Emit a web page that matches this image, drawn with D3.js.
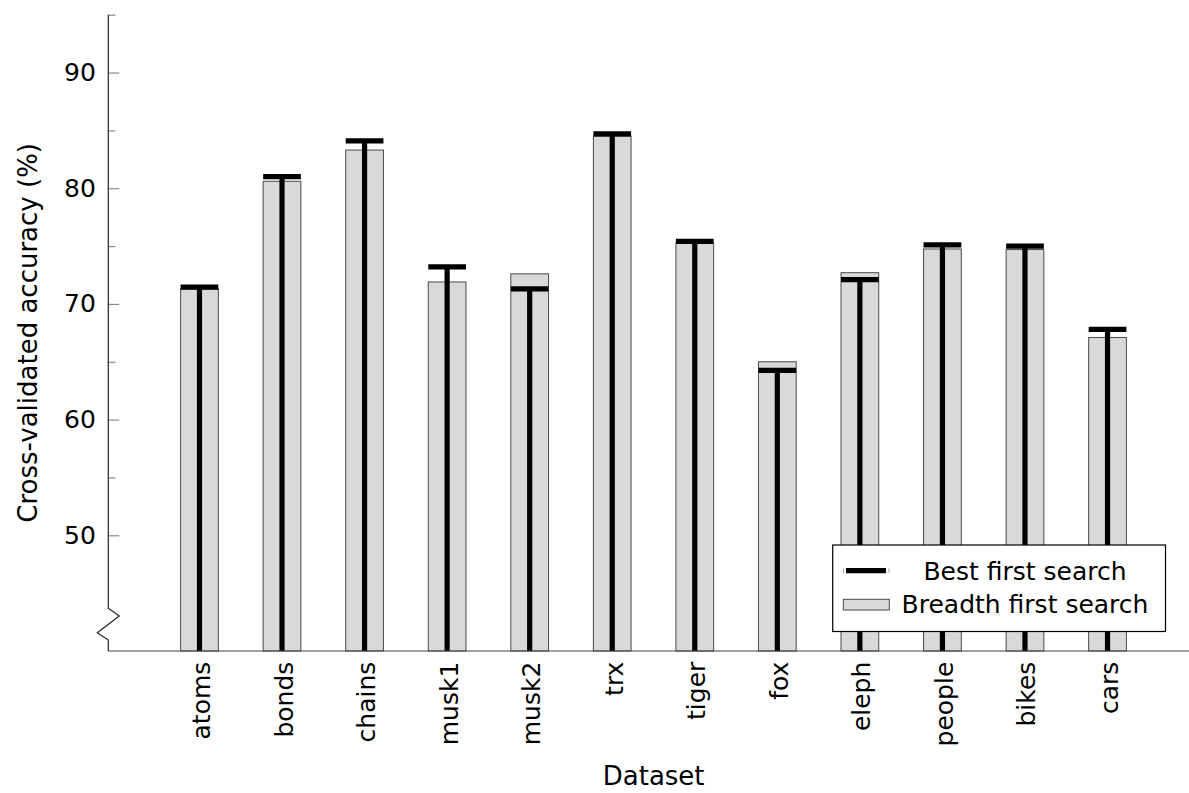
<!DOCTYPE html>
<html><head><meta charset="utf-8">
<script src="https://cdn.jsdelivr.net/npm/d3@7"></script>
<style>
body{margin:0;background:#fff}
svg text{font-family:"DejaVu Sans", sans-serif; fill:#000}
</style>
</head><body>
<svg id="c" width="1189" height="793"></svg>
<script>
// ---- data ----
const categories = ["atoms","bonds","chains","musk1","musk2","trx","tiger","fox","eleph","people","bikes","cars"];
const breadthFirst = [71.3, 80.6, 83.3, 71.9, 72.6, 84.5, 75.25, 65.0, 72.7, 74.75, 74.7, 67.1];
const bestFirst    = [71.45, 81.0, 84.1, 73.2, 71.3, 84.7, 75.4, 64.25, 72.1, 75.1, 75.0, 67.8];
const yMajorTicks = [50, 60, 70, 80, 90];
const yMinorTicks = [55, 65, 75, 85, 95];
const seriesNames = ["Best first search", "Breadth first search"];
const yTitle = "Cross-validated accuracy (%)";
const xTitle = "Dataset";

// ---- layout ----
const svg = d3.select("#c");
const FS = 25;
const FT = 26;
const FF = "DejaVu Sans";
const axisX = 108.3, axisRight = 1199;
const y = d3.scaleLinear().domain([40, 95]).range([651, 14.7]);
const x = d3.scaleBand().domain(categories).range([158.2, 1148.8]).paddingInner(0.543).paddingOuter(0.2715);
const yBase = y(40);

// bars (breadth first)
svg.append("g").selectAll("rect").data(categories).join("rect")
  .attr("x", d => x(d)).attr("width", x.bandwidth())
  .attr("y", (d,i) => y(breadthFirst[i])).attr("height", (d,i) => yBase - y(breadthFirst[i]))
  .attr("fill", "#d9d9d9").attr("stroke", "#4a4a4a").attr("stroke-width", 1);

// best first: stems + caps
const g2 = svg.append("g");
g2.selectAll("line.stem").data(categories).join("line").attr("class","stem")
  .attr("x1", d => x(d) + x.bandwidth()/2).attr("x2", d => x(d) + x.bandwidth()/2)
  .attr("y1", yBase).attr("y2", (d,i) => y(bestFirst[i]))
  .attr("stroke", "#000").attr("stroke-width", 5.2);
g2.selectAll("line.cap").data(categories).join("line").attr("class","cap")
  .attr("x1", d => x(d)).attr("x2", d => x(d) + x.bandwidth())
  .attr("y1", (d,i) => y(bestFirst[i])).attr("y2", (d,i) => y(bestFirst[i]))
  .attr("stroke", "#000").attr("stroke-width", 5.2);

// y axis: major & minor ticks
const yAx = svg.append("g").attr("transform", `translate(${axisX},0)`)
  .call(d3.axisLeft(y).tickValues(yMajorTicks).tickSize(-11).tickPadding(12.5).tickFormat(d3.format("d")));
yAx.select(".domain").remove();
yAx.selectAll(".tick line").attr("stroke", "#888").attr("stroke-width", 1.2);
yAx.selectAll(".tick text").attr("font-size", FS).attr("font-family", FF);
const yMin = svg.append("g").attr("transform", `translate(${axisX},0)`)
  .call(d3.axisLeft(y).tickValues(yMinorTicks).tickSize(-7).tickFormat(""));
yMin.select(".domain").remove();
yMin.selectAll(".tick line").attr("stroke", "#888").attr("stroke-width", 1.2);

// y axis line with break
const yb = yBase;
svg.append("path")
  .attr("d", `M${axisX},${y(95)} V${yb-42.7} L${axisX+11},${yb-35} L${axisX-11},${yb-18.3} L${axisX},${yb-11} V${yb}`)
  .attr("fill", "none").attr("stroke", "#222").attr("stroke-width", 1.2);

// x axis
svg.append("line").attr("x1", axisX).attr("x2", axisRight).attr("y1", yb).attr("y2", yb)
  .attr("stroke", "#444").attr("stroke-width", 1.2);
const xAx = svg.append("g").attr("transform", `translate(0,${yb})`)
  .call(d3.axisBottom(x).tickSize(0));
xAx.select(".domain").remove();
xAx.selectAll(".tick text")
  .attr("y", 0).attr("dy", null).attr("x", 0)
  .attr("text-anchor", "end")
  .attr("transform", "translate(10.5,10.7) rotate(-90)")
  .attr("font-size", FS).attr("font-family", FF);

// titles
svg.append("text").attr("transform", `translate(37,${(y(95)+yb)/2}) rotate(-90)`)
  .attr("text-anchor", "middle").attr("font-size", FT).text(yTitle);
svg.append("text").attr("x", (axisX+axisRight)/2).attr("y", 785)
  .attr("text-anchor", "middle").attr("font-size", FT).text(xTitle);

// legend
const lg = svg.append("g");
lg.append("rect").attr("x", 832.7).attr("y", 545).attr("width", 332.8).attr("height", 86.5)
  .attr("fill", "#fff").attr("stroke", "#000").attr("stroke-width", 1.2);
lg.append("line").attr("x1", 846).attr("x2", 886).attr("y1", 570.7).attr("y2", 570.7)
  .attr("stroke", "#000").attr("stroke-width", 5.2);
lg.append("line").attr("x1", 843.5).attr("x2", 843.5).attr("y1", 568.5).attr("y2", 573)
  .attr("stroke", "#999").attr("stroke-width", 1);
lg.append("line").attr("x1", 889).attr("x2", 889).attr("y1", 568.5).attr("y2", 573)
  .attr("stroke", "#999").attr("stroke-width", 1);
lg.append("rect").attr("x", 843.3).attr("y", 599.3).attr("width", 46).attr("height", 10.7)
  .attr("fill", "#d9d9d9").attr("stroke", "#4a4a4a").attr("stroke-width", 1);
lg.selectAll("text.lt").data(seriesNames).join("text").attr("class","lt")
  .attr("x", 1025).attr("y", (d,i) => 580 + i*33.3)
  .attr("text-anchor", "middle").attr("font-size", FS).text(d => d);
</script>
</body></html>
